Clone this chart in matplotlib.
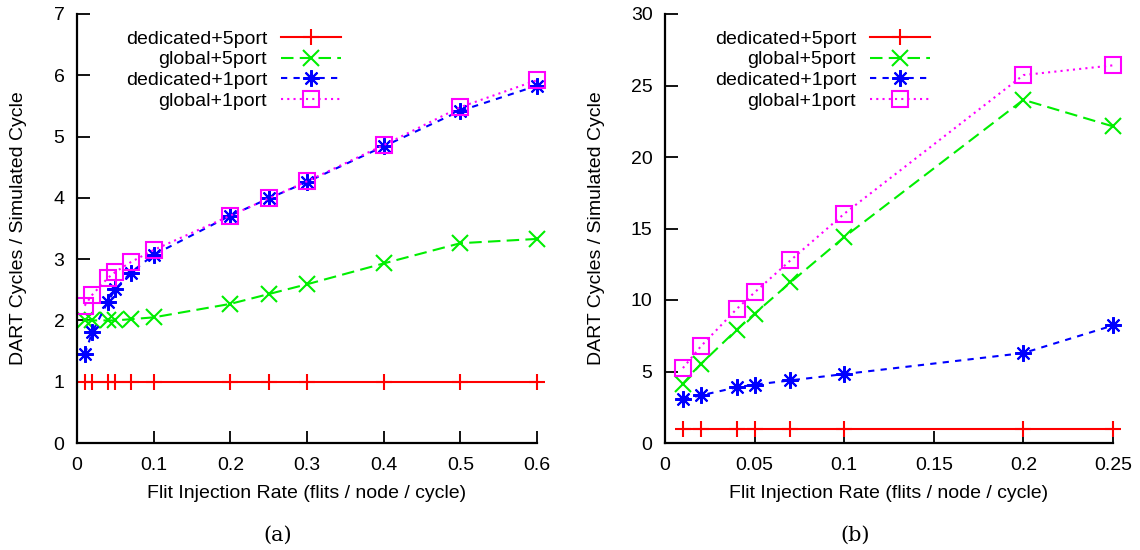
import numpy as np
import matplotlib
matplotlib.use("Agg")
import matplotlib.pyplot as plt
from matplotlib.ticker import FuncFormatter

plt.rcParams['font.family'] = ['Liberation Sans', 'DejaVu Sans']

# panel (a)
x_a = [0.01, 0.02, 0.04, 0.05, 0.07, 0.1, 0.2, 0.25, 0.3, 0.4, 0.5, 0.6]
ded5_a = [1.0] * 12
glob5_a = [2.0, 2.0, 2.0, 2.0, 2.02, 2.05, 2.27, 2.43, 2.59, 2.93, 3.26, 3.33]
ded1_a = [1.45, 1.81, 2.30, 2.51, 2.78, 3.07, 3.71, 3.99, 4.26, 4.84, 5.42, 5.83]
glob1_a = [2.24, 2.42, 2.69, 2.79, 2.95, 3.15, 3.71, 3.99, 4.27, 4.86, 5.48, 5.92]

# panel (b)
x_b = [0.01, 0.02, 0.04, 0.05, 0.07, 0.1, 0.2, 0.25]
ded5_b = [1.0] * 8
glob5_b = [4.15, 5.52, 7.92, 9.04, 11.23, 14.4, 24.0, 22.14]
ded1_b = [3.07, 3.33, 3.89, 4.08, 4.38, 4.82, 6.29, 8.22]
glob1_b = [5.24, 6.76, 9.37, 10.53, 12.77, 16.03, 25.73, 26.41]

labels = ['dedicated+5port', 'global+5port', 'dedicated+1port', 'global+1port']
colors = ['#ff0000', '#00ee00', '#0000ff', '#ff00ff']
styles = ['-', (0, (6, 3)), (0, (3, 3)), (0, (1, 2))]
markers = ['+', 'x', (8, 2, 0), 's']

fig = plt.figure(figsize=(11.4, 5.5), dpi=100)
ax_a = fig.add_axes([77 / 1140, 107 / 550, 460 / 1140, 429 / 550])
ax_b = fig.add_axes([665 / 1140, 107 / 550, 448 / 1140, 429 / 550])

panels = [
    (ax_a, x_a, [ded5_a, glob5_a, ded1_a, glob1_a], 0.6, 7, np.arange(0, 0.61, 0.1), np.arange(0, 8, 1),
     (341 - 77) / 460, -0.128),
    (ax_b, x_b, [ded5_b, glob5_b, ded1_b, glob1_b], 0.25, 30, np.arange(0, 0.26, 0.05), np.arange(0, 31, 5),
     (930 - 665) / 448, -0.152),
]

fs = 14
for ax, xs, series, xmax, ymax, xt, yt, legx, ylx in panels:
    for ys, lab, c, ls, m in zip(series, labels, colors, styles, markers):
        ax.plot(xs, ys, color=c, linestyle=ls, linewidth=1.5, marker=m,
                markersize=12 if m != 's' else 11, markeredgewidth=1.5,
                markerfacecolor='none', markeredgecolor=c, label=lab, clip_on=False)
    ax.set_xlim(0, xmax)
    ax.set_ylim(0, ymax)
    ax.set_xticks(xt)
    ax.set_yticks(yt)
    ax.xaxis.set_major_formatter(FuncFormatter(lambda v, p: '%g' % round(v, 3)))
    ax.spines['top'].set_visible(False)
    ax.spines['right'].set_visible(False)
    ax.spines['left'].set_linewidth(1.6)
    ax.spines['bottom'].set_linewidth(1.6)
    ax.tick_params(direction='in', length=9, width=1.3, labelsize=fs)
    ax.tick_params(axis='x', pad=10)
    ax.tick_params(axis='y', pad=9)
    ax.set_xlabel('Flit Injection Rate (flits / node / cycle)', fontsize=fs, va='center')
    ax.set_ylabel('DART Cycles / Simulated Cycle', fontsize=fs, va='center')
    ax.xaxis.set_label_coords(0.5, (443 - 493) / 429)
    ax.yaxis.set_label_coords(ylx, 0.5)
    ax.legend(loc='upper right', bbox_to_anchor=(legx, 1.0 - 16 / 429), frameon=False, markerfirst=False,
              handlelength=3.1, labelspacing=0.16, fontsize=fs, borderaxespad=0.0, borderpad=0.0,
              handletextpad=0.7)

fig.text(278 / 1140, 1 - 535 / 550, '(a)', ha='center', va='center', fontsize=15, family='DejaVu Serif')
fig.text(855 / 1140, 1 - 535 / 550, '(b)', ha='center', va='center', fontsize=15, family='DejaVu Serif')

fig.savefig('out.png', dpi=100)
